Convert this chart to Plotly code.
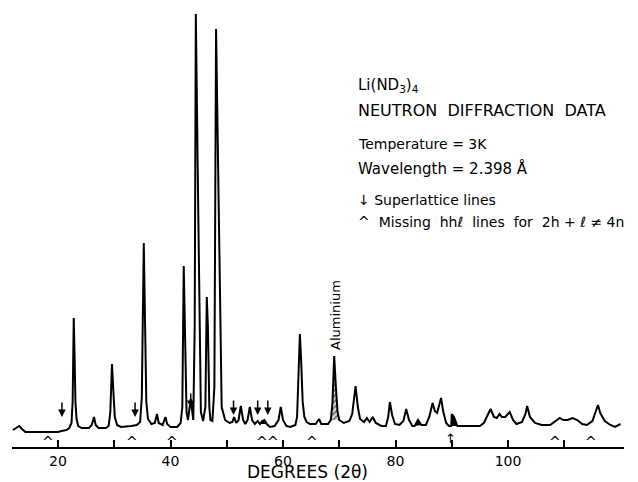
import plotly.graph_objects as go

# ---- data (2theta in degrees, intensity in arbitrary units) ----
two_theta = [12.0, 12.6, 13.1, 13.6, 14.2, 16.0, 18.0, 20.0, 20.6, 21.5, 22.0, 22.4,
             22.6, 22.8, 22.95, 23.1, 23.3, 23.6, 24.2, 25.5, 26.0, 26.4, 26.7, 27.2,
             28.5, 29.0, 29.3, 29.6, 29.8, 30.1, 30.5, 31.2, 33.0, 34.0, 34.6, 34.9,
             35.25, 35.45, 35.7, 36.0, 36.6, 37.2, 37.6, 37.9, 38.6, 39.1, 39.4, 40.0,
             41.2, 41.8, 42.1, 42.35, 42.6, 42.85, 43.1, 43.35, 43.6, 43.85, 44.05, 44.3,
             44.5, 44.9, 45.2, 45.4, 45.8, 46.2, 46.45, 46.65, 46.9, 47.1, 47.45, 47.8,
             48.1, 48.5, 48.9, 49.1, 49.7, 50.5, 51.0, 51.3, 51.7, 52.1, 52.5, 52.9,
             53.3, 53.7, 54.1, 54.5, 55.0, 55.5, 55.9, 56.3, 56.7, 57.1, 57.7, 58.5,
             59.2, 59.6, 60.0, 60.6, 61.3, 62.2, 62.5, 62.8, 63.0, 63.2, 63.5, 63.8,
             64.2, 64.8, 65.8, 66.4, 66.8, 68.0, 68.5, 68.8, 69.1, 69.4, 69.7, 70.0,
             70.8, 71.8, 72.3, 72.9, 73.3, 73.7, 74.4, 74.9, 75.4, 75.95, 76.5, 77.5,
             78.3, 78.7, 79.0, 79.4, 79.9, 80.7, 81.4, 81.9, 82.4, 83.0, 83.4, 84.0,
             84.6, 85.4, 86.0, 86.6, 87.0, 87.4, 87.8, 88.1, 88.5, 89.0, 89.5, 89.9,
             90.0, 90.4, 91.0, 92.0, 95.0, 95.7, 96.3, 96.9, 97.5, 98.0, 98.5, 98.9,
             99.5, 100.3, 100.9, 101.5, 102.5, 103.1, 103.4, 103.9, 104.8, 106.0, 107.5, 108.4,
             109.2, 109.8, 110.6, 111.5, 112.3, 113.2, 114.0, 115.0, 115.6, 116.0, 116.4, 117.2,
             118.2, 119.0, 120.0]
intensity = [17, 19, 21, 18, 15, 15, 15, 15, 16, 17, 19, 24,
             45, 129, 90, 45, 28, 21, 19, 19, 22, 30, 22, 19,
             19, 21, 35, 83, 60, 30, 22, 20, 21, 22, 25, 50,
             204, 120, 45, 28, 23, 24, 33, 24, 22, 30, 23, 20,
             20, 24, 40, 181, 100, 35, 27, 38, 48, 36, 27, 120,
             433, 250, 80, 35, 26, 40, 150, 120, 40, 27, 26, 60,
             418, 250, 80, 40, 27, 24, 25, 30, 24, 27, 41, 27,
             23, 27, 40, 27, 23, 26, 23, 26, 27, 23, 20, 21,
             27, 40, 27, 21, 20, 22, 30, 80, 113, 90, 45, 30,
             25, 23, 23, 28, 23, 23, 27, 45, 91, 60, 35, 27,
             24, 26, 33, 61, 40, 28, 25, 29, 25, 30, 24, 21,
             21, 30, 45, 32, 23, 22, 26, 38, 27, 21, 21, 27,
             22, 22, 30, 44, 36, 34, 42, 49, 35, 24, 21, 21,
             33, 30, 21, 21, 21, 24, 31, 38, 30, 29, 33, 30,
             30, 35, 27, 23, 25, 33, 41, 30, 24, 22, 22, 26,
             29, 27, 27, 29, 27, 23, 22, 26, 35, 42, 34, 26,
             22, 20, 23]

# marked features
superlattice_lines = [20.7, 33.7, 43.6, 51.2, 55.5, 57.3]
superlattice_tips = [30, 30, 39, 32, 32, 32]
missing_hhl = [18.2, 33.1, 40.3, 56.2, 58.2, 65.2, 108.3, 114.8]
missing_hhl_up = [89.8]
aluminium_peak = (68.5, 70.0)
solid_regions = [(55.9, 57.1), (83.4, 84.6), (89.9, 91.0)]

tick_values = [20, 30, 40, 50, 60, 70, 80, 90, 100, 110]
tick_labels = ["20", "", "40", "", "60", "", "80", "", "100", ""]

FONT = "DejaVu Sans"

def segment(lo, hi):
    xs = [x for x in two_theta if lo <= x <= hi]
    ys = [y for x, y in zip(two_theta, intensity) if lo <= x <= hi]
    return xs + [xs[0]], ys + [ys[0]]

fig = go.Figure()

# hatched aluminium peak
ax_, ay_ = segment(*aluminium_peak)
fig.add_trace(go.Scatter(x=ax_, y=ay_, mode="lines", fill="toself",
                         line=dict(color="black", width=0),
                         fillcolor="white",
                         fillpattern=dict(shape="/", fgcolor="black", bgcolor="white",
                                          size=4, solidity=0.65),
                         hoverinfo="skip", showlegend=False))
# solid black small features
for lo, hi in solid_regions:
    sx, sy = segment(lo, hi)
    fig.add_trace(go.Scatter(x=sx, y=sy, mode="lines", fill="toself",
                             line=dict(color="black", width=0), fillcolor="black",
                             hoverinfo="skip", showlegend=False))

# main diffraction curve
fig.add_trace(go.Scatter(x=two_theta, y=intensity, mode="lines",
                         line=dict(color="black", width=2),
                         showlegend=False, cliponaxis=False))

annotations = []
for x, tip in zip(superlattice_lines, superlattice_tips):
    annotations.append(dict(x=x, y=tip, xref="x", yref="y", text="", showarrow=True,
                            ax=0, ay=-16, arrowhead=2, arrowsize=1, arrowwidth=1.5,
                            arrowcolor="black"))
for x in missing_hhl:
    annotations.append(dict(x=x, y=5, xref="x", yref="y", text="^", showarrow=False,
                            font=dict(family=FONT, size=14, color="black"),
                            yanchor="middle"))
for x in missing_hhl_up:
    annotations.append(dict(x=x, y=9, xref="x", yref="y", text="↑", showarrow=False,
                            font=dict(family=FONT, size=13, color="black"),
                            yanchor="middle"))

# text block
tx = 72.98
text_lines = [
    (362, "Li(ND<sub>3</sub>)<sub>4</sub>", 15),
    (337, "NEUTRON  DIFFRACTION  DATA", 16),
    (303, "Temperature = 3K", 14),
    (279, "Wavelength = 2.398 Å", 15),
    (247, "↓ Superlattice lines", 14),
    (225, "^  Missing  hhℓ  lines  for  2h + ℓ ≠ 4n", 14),
]
for y, t, s in text_lines:
    annotations.append(dict(x=tx, y=y, xref="x", yref="y", text=t, showarrow=False,
                            xanchor="left", yanchor="middle",
                            font=dict(family=FONT, size=s, color="black")))

annotations.append(dict(x=69.24, y=132, xref="x", yref="y", text="Aluminium",
                        showarrow=False, textangle=-90,
                        font=dict(family=FONT, size=13, color="black")))
annotations.append(dict(x=64.27, y=0, xref="x", yref="paper", yshift=-25,
                        text="DEGREES (2θ)", showarrow=False, yanchor="middle",
                        font=dict(family=FONT, size=17, color="black")))

fig.update_layout(
    width=638, height=482,
    margin=dict(l=12, r=14, t=0, b=35),
    paper_bgcolor="white", plot_bgcolor="white",
    annotations=annotations,
    xaxis=dict(range=[11.822, 120.62], showgrid=False, zeroline=False,
               showline=True, linecolor="black", linewidth=2,
               ticks="inside", ticklen=7, tickwidth=1.5, tickcolor="black",
               tickvals=tick_values, ticktext=tick_labels,
               tickfont=dict(family=FONT, size=14, color="black")),
    yaxis=dict(range=[0, 447], visible=False, showgrid=False, zeroline=False),
)

fig.write_html("out.html", config={"displayModeBar": False},
               post_script="document.body.style.margin='0';")
